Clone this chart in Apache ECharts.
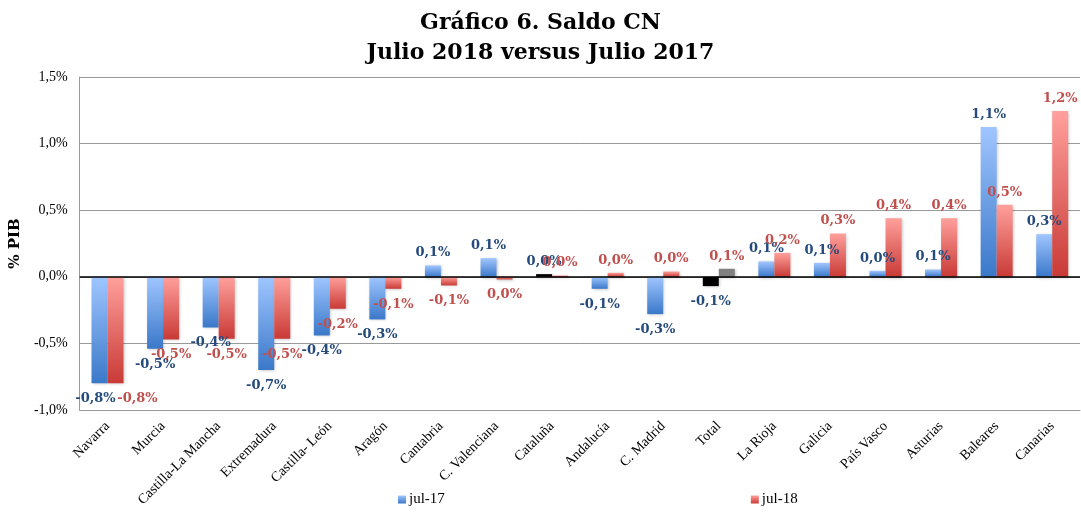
<!DOCTYPE html>
<html>
<head>
<meta charset="utf-8">
<script src="https://cdn.jsdelivr.net/npm/echarts@6/dist/echarts.min.js"></script>
<style>
  html, body { margin: 0; padding: 0; background: #fff; }
  #chart { width: 1081px; height: 515px; }
</style>
</head>
<body>
<div id="chart"></div>
<script>
// regiones, ordenadas como en el gráfico
var regiones = ['Navarra', 'Murcia', 'Castilla-La Mancha', 'Extremadura', 'Castilla- León', 'Aragón',
  'Cantabria', 'C. Valenciana', 'Cataluña', 'Andalucía', 'C. Madrid', 'Total', 'La Rioja', 'Galicia',
  'País Vasco', 'Asturias', 'Baleares', 'Canarias'];
// saldo en % del PIB
var jul17 = [-0.80, -0.54, -0.38, -0.70, -0.44, -0.32, 0.085, 0.14, 0.02, -0.09, -0.28, -0.07, 0.115, 0.105, 0.045, 0.055, 1.125, 0.32];
var jul18 = [-0.80, -0.47, -0.465, -0.465, -0.24, -0.09, -0.065, -0.02, 0.01, 0.03, 0.04, 0.06, 0.18, 0.325, 0.44, 0.44, 0.54, 1.245];
var yTicks = { min: -1, max: 1.5, step: 0.5 };

var serif = 'DejaVu Serif';
var times = 'Liberation Serif';
var grad = function (a, b) {
  return new echarts.graphic.LinearGradient(0, 0, 0, 1, [{ offset: 0, color: a }, { offset: 1, color: b }]);
};
var blueGrad = grad('#a0c6ff', '#3a78c9');
var redGrad = grad('#ffa09c', '#c93a36');

function fmt(v) {
  var r = Math.round(v * 10) / 10;
  if (Math.abs(r) < 0.05) r = 0;
  return r.toFixed(1).replace('.', ',') + '%';
}

// etiqueta arriba si positivo, abajo si negativo; algunos colores especiales
function buildData(arr, special, offsets) {
  return arr.map(function (v, i) {
    var item = {
      value: v,
      label: { position: v < 0 ? 'bottom' : 'top', distance: v < 0 ? 9 : 6 }
    };
    if (offsets[regiones[i]]) item.label.offset = offsets[regiones[i]];
    if (special[regiones[i]]) item.itemStyle = { color: special[regiones[i]] };
    return item;
  });
}

var myChart = echarts.init(document.getElementById('chart'));
var labelBase = function (color) {
  return {
    show: true, color: color, fontFamily: serif, fontWeight: 'bold', fontSize: 13,
    formatter: function (p) { return fmt(p.value); }
  };
};
var shadow = { shadowBlur: 3, shadowColor: 'rgba(0,0,0,0.25)', shadowOffsetX: 1, shadowOffsetY: 1 };

var option = {
  animation: false,
  title: {
    text: 'Gráfico 6. Saldo CN\nJulio 2018 versus Julio 2017',
    left: 'center', top: 3,
    textStyle: { fontFamily: serif, fontWeight: 'bold', fontSize: 22, lineHeight: 30, color: '#000' }
  },
  legend: {
    bottom: 3, left: 393, itemGap: 306, itemWidth: 8, itemHeight: 8,
    textStyle: { fontFamily: times, fontSize: 15, color: '#000', padding: [0, 0, 0, -2] },
    data: [{ name: 'jul-17', icon: 'rect' }, { name: 'jul-18', icon: 'rect' }]
  },
  grid: { left: 77, right: 1, top: 77, bottom: 105 },
  xAxis: {
    type: 'category', data: regiones,
    axisLine: { onZero: false, lineStyle: { color: '#999' } },
    axisTick: { show: false },
    axisLabel: { rotate: 45, interval: 0, margin: 14, color: '#000', fontFamily: times, fontSize: 14 }
  },
  yAxis: {
    type: 'value', min: yTicks.min, max: yTicks.max, interval: yTicks.step,
    name: '% PIB', nameLocation: 'middle', nameGap: 50, nameRotate: 90,
    nameTextStyle: { fontFamily: serif, fontWeight: 'bold', fontSize: 15, color: '#000' },
    axisLine: { show: true, lineStyle: { color: '#999' } },
    axisTick: { show: false },
    axisLabel: { color: '#000', fontFamily: times, fontSize: 14, margin: 12,
      formatter: function (v) { return v.toFixed(1).replace('.', ',') + '%'; } },
    splitLine: { lineStyle: { color: '#999', width: 1 } }
  },
  series: [
    {
      name: 'jul-17', type: 'bar', barWidth: 16, barGap: '0%',
      itemStyle: Object.assign({ color: blueGrad }, shadow),
      label: labelBase('#254a7c'),
      data: buildData(jul17, { 'Cataluña': '#000', 'Total': '#000' }, { 'Navarra': [-4, 0] }),
      markLine: {
        silent: true, symbol: 'none', label: { show: false },
        lineStyle: { color: '#000', type: 'solid', width: 1.5 },
        data: [{ yAxis: 0 }]
      }
    },
    {
      name: 'jul-18', type: 'bar', barWidth: 16, barGap: '0%',
      itemStyle: Object.assign({ color: redGrad }, shadow),
      label: labelBase('#c0504d'),
      data: buildData(jul18, { 'Total': '#808080' }, { 'Navarra': [22, 0] })
    }
  ]
};
myChart.setOption(option);
</script>
</body>
</html>
